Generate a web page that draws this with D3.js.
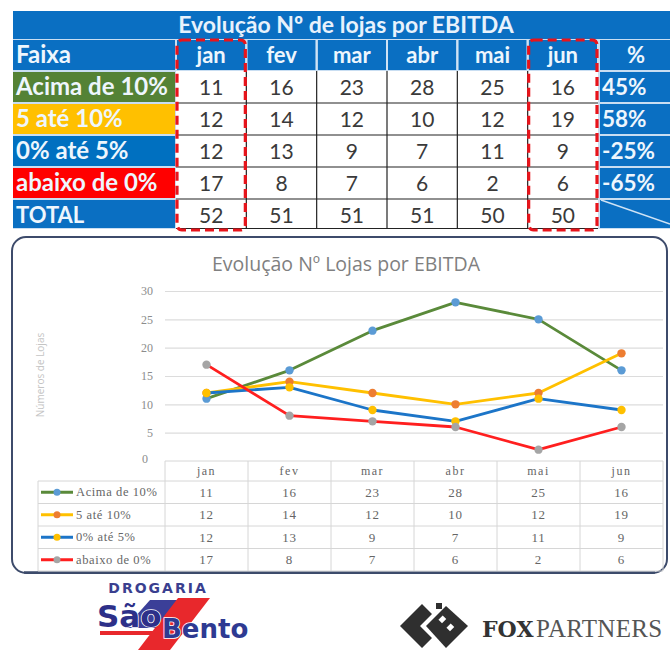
<!DOCTYPE html>
<html><head><meta charset="utf-8">
<script src="https://cdn.jsdelivr.net/npm/d3@7"></script>
<style>body{margin:0;background:#fff;overflow:hidden}</style>
</head><body>
<script>
// ---- data ----
const months = ["jan","fev","mar","abr","mai","jun"];
const seriesNames = ["Acima de 10%","5 até 10%","0% até 5%","abaixo de 0%"];
const acimaDe10 = [11,16,23,28,25,16];
const de5ate10 = [12,14,12,10,12,19];
const de0ate5 = [12,13,9,7,11,9];
const abaixoDe0 = [17,8,7,6,2,6];
const totals = [52,51,51,51,50,50];
const pctChange = ["45%","58%","-25%","-65%"];
const yTicks = [0,5,10,15,20,25,30];

const seriesValues = [acimaDe10, de5ate10, de0ate5, abaixoDe0];
const labelColors = ["#548235","#ffc000","#0070c0","#ff0000"];
const lineColors = ["#5a8a3a","#ffc000","#1c75c8","#ff1f1f"];
const markerColors = ["#5b9bd5","#ed7d31","#ffc000","#a5a5a5"];
const BLUE = "#0a6fc2";

const W = 670, H = 657;
const svg = d3.select("body").append("svg").attr("width", W).attr("height", H);

// ================= TOP TABLE =================
const tb = svg.append("g");
const tFont = "Lato, 'Open Sans', sans-serif";
tb.append("rect").attr("x",13).attr("y",11).attr("width",657).attr("height",218).attr("fill","#c9def2");
// title row
tb.append("rect").attr("x",13).attr("y",11).attr("width",657).attr("height",28).attr("fill",BLUE);
tb.append("text").attr("x",346).attr("y",33).attr("text-anchor","middle")
  .attr("font-family",tFont).attr("font-weight","bold").attr("font-size",23).attr("fill","#e8f2fc")
  .text("Evolução Nº  de lojas por EBITDA");

const colX = d3.scaleBand().domain(months).range([176, 598]);
// header row
const headerY = 40, headerH = 30;
const lblSize = 24;
tb.append("rect").attr("x",13).attr("y",headerY).attr("width",162).attr("height",headerH).attr("fill",BLUE);
tb.append("text").attr("x",16).attr("y",headerY+23).attr("font-family",tFont).attr("font-weight","bold")
  .attr("font-size",lblSize).attr("fill","#eef6fd").text("Faixa");
months.forEach(m=>{
  tb.append("rect").attr("x",colX(m)+1).attr("y",headerY).attr("width",colX.bandwidth()-2).attr("height",headerH).attr("fill",BLUE);
  tb.append("text").attr("x",colX(m)+colX.bandwidth()/2).attr("y",headerY+23).attr("text-anchor","middle")
    .attr("font-family",tFont).attr("font-weight","bold").attr("font-size",22).attr("fill","#eef6fd").text(m);
});
tb.append("rect").attr("x",600).attr("y",headerY).attr("width",70).attr("height",headerH).attr("fill",BLUE);
tb.append("text").attr("x",636).attr("y",headerY+23).attr("text-anchor","middle")
  .attr("font-family",tFont).attr("font-weight","bold").attr("font-size",22).attr("fill","#eef6fd").text("%");

// data area
const rowTop = i => 72 + i*32;
tb.append("rect").attr("x",176).attr("y",71).attr("width",422).attr("height",158).attr("fill","#fff");
const rowLabels = seriesNames.concat(["TOTAL"]);
const rowFills = labelColors.concat([BLUE]);
const rowVals = seriesValues.concat([totals]);
rowLabels.forEach((lab,i)=>{
  const y0 = rowTop(i), h = i<4 ? 30 : 28;
  tb.append("rect").attr("x",13).attr("y",y0).attr("width",162).attr("height",h).attr("fill",rowFills[i]);
  tb.append("text").attr("x",16).attr("y",y0+23).attr("font-family",tFont).attr("font-weight","bold")
    .attr("font-size",i<4?lblSize:22).attr("fill","#eef6fd").text(lab);
  rowVals[i].forEach((v,j)=>{
    tb.append("text").attr("x",colX(months[j])+colX.bandwidth()/2).attr("y",y0+23).attr("text-anchor","middle")
      .attr("font-family",tFont).attr("font-size",21).attr("fill","#3a3a3a").text(v);
  });
  tb.append("rect").attr("x",600).attr("y",y0).attr("width",70).attr("height",h).attr("fill",BLUE);
  if (i<4) {
    tb.append("text").attr("x",602).attr("y",y0+23).attr("font-family",tFont).attr("font-weight","bold")
      .attr("font-size",22.5).attr("fill","#eef6fd").text(pctChange[i]);
  } else {
    tb.append("line").attr("x1",601).attr("y1",y0).attr("x2",670).attr("y2",y0+24).attr("stroke","#cfe3f5").attr("stroke-width",1.5);
  }
  if (i>0) tb.append("line").attr("x1",176).attr("x2",598).attr("y1",y0-1).attr("y2",y0-1).attr("stroke","#222").attr("stroke-width",1.2);
});
tb.append("line").attr("x1",176).attr("x2",598).attr("y1",228.5).attr("y2",228.5).attr("stroke","#222").attr("stroke-width",1.2);
months.slice(1).forEach(m=>{
  tb.append("line").attr("x1",colX(m)).attr("x2",colX(m)).attr("y1",71).attr("y2",229).attr("stroke","#222").attr("stroke-width",1.2);
  tb.append("line").attr("x1",colX(m)).attr("x2",colX(m)).attr("y1",40).attr("y2",70).attr("stroke","#cfe3f5").attr("stroke-width",2);
});
// red dashed highlight boxes
["jan","jun"].forEach(m=>{
  tb.append("rect").attr("x",colX(m)+1).attr("y",40).attr("width",colX.bandwidth()-2).attr("height",190)
    .attr("rx",5).attr("fill","none").attr("stroke","#e8141b").attr("stroke-width",3.2).attr("stroke-dasharray","9,5");
});

// ================= CHART PANEL =================
const cp = svg.append("g");
cp.append("rect").attr("x",12).attr("y",237).attr("width",655).attr("height",336).attr("rx",14)
  .attr("fill","#fff").attr("stroke","#3d4b6b").attr("stroke-width",2);
cp.append("line").attr("x1",24).attr("x2",655).attr("y1",572.5).attr("y2",572.5).attr("stroke","#3d4b6b").attr("stroke-width",2.5);
cp.append("text").attr("x",346).attr("y",271).attr("text-anchor","middle")
  .attr("font-family","'Open Sans', sans-serif").attr("font-size",19.5).attr("fill","#808080")
  .text("Evolução Nº Lojas por EBITDA");

const x = d3.scaleBand().domain(months).range([165, 663]);
const y = d3.scaleLinear().domain([0,30]).range([461, 291]);
const cx = m => x(m) + x.bandwidth()/2;

// gridlines + y labels via axis
const yAxis = d3.axisLeft(y).tickValues(yTicks).tickSize(-(663-165)).tickFormat(d3.format("d"));
const ya = cp.append("g").attr("transform","translate(165,0)").call(yAxis);
ya.select(".domain").remove();
ya.selectAll(".tick line").attr("stroke","#dcdcdc").attr("stroke-width",1.2);
ya.selectAll(".tick text").attr("x",-12).attr("font-family","'Liberation Serif', serif").attr("font-size",12).attr("fill","#8c8c8c");
ya.selectAll(".tick").filter(d=>d===0).select("line").remove();
ya.selectAll(".tick").filter(d=>d===0).select("text").attr("x",-17).attr("dy","0.1em");

cp.append("text").attr("transform","translate(44,375) rotate(-90)").attr("text-anchor","middle")
  .attr("font-family","'Open Sans', sans-serif").attr("font-size",10).attr("fill","#c4c4c4").text("Números de Lojas");

// lines
const lineGen = d3.line().x((d,i)=>cx(months[i])).y(d=>y(d));
seriesValues.forEach((vals,k)=>{
  cp.append("path").datum(vals).attr("d",lineGen).attr("fill","none")
    .attr("stroke",lineColors[k]).attr("stroke-width",2.8).attr("stroke-linejoin","round");
  cp.selectAll(null).data(vals).enter().append("circle")
    .attr("cx",(d,i)=>cx(months[i])).attr("cy",d=>y(d)).attr("r",4.2).attr("fill",markerColors[k]);
});

// data table under chart
const tTop = 461, hdrH = 20, rH = 22.5;
const tBot = tTop + hdrH + 4*rH;
const gridC = "#d6d6d6";
const tbl = cp.append("g");
tbl.append("line").attr("x1",165).attr("x2",663).attr("y1",tTop).attr("y2",tTop).attr("stroke",gridC);
for (let r=0;r<=4;r++){
  const yy = tTop + hdrH + r*rH;
  tbl.append("line").attr("x1",38).attr("x2",663).attr("y1",yy).attr("y2",yy).attr("stroke",gridC);
}
tbl.append("line").attr("x1",38).attr("x2",38).attr("y1",tTop+hdrH).attr("y2",tBot).attr("stroke",gridC);
months.forEach(m=>{
  tbl.append("line").attr("x1",x(m)).attr("x2",x(m)).attr("y1",tTop).attr("y2",tBot).attr("stroke",gridC);
});
tbl.append("line").attr("x1",663).attr("x2",663).attr("y1",tTop).attr("y2",tBot).attr("stroke",gridC);
const sFont = "'Liberation Serif', serif";
months.forEach(m=>{
  tbl.append("text").attr("x",cx(m)).attr("y",tTop+hdrH/2+4).attr("text-anchor","middle")
    .attr("font-family",sFont).attr("font-size",12).attr("letter-spacing",1.5).attr("fill","#666").text(m);
});
seriesValues.forEach((vals,k)=>{
  const yc = tTop + hdrH + k*rH + rH/2;
  tbl.append("line").attr("x1",41).attr("x2",73).attr("y1",yc).attr("y2",yc).attr("stroke",lineColors[k]).attr("stroke-width",3);
  tbl.append("circle").attr("cx",57).attr("cy",yc).attr("r",3.5).attr("fill",markerColors[k]);
  tbl.append("text").attr("x",76).attr("y",yc+4).attr("font-family",sFont).attr("font-size",12.5).attr("letter-spacing",0.6).attr("fill","#666").text(seriesNames[k]);
  vals.forEach((v,i)=>{
    tbl.append("text").attr("x",cx(months[i])).attr("y",yc+4.5).attr("text-anchor","middle")
      .attr("font-family",sFont).attr("font-size",13).attr("letter-spacing",0.8).attr("fill","#666").text(v);
  });
});

// ================= LOGOS =================
const lg = svg.append("g");
// Drogaria São Bento
lg.append("polygon").attr("points","150,600 205,600 180,628 125,628").attr("fill","#3b3f98");
lg.append("polygon").attr("points","178,598 210,598 170,650 138,650").attr("fill","#e8282c");
lg.append("text").attr("x",158).attr("y",593).attr("text-anchor","middle").attr("font-family","'DejaVu Sans', sans-serif")
  .attr("font-weight","bold").attr("font-size",14).attr("letter-spacing",2).attr("fill","#3a3f8f").text("DROGARIA");
lg.append("text").attr("x",97).attr("y",627).attr("font-family","'DejaVu Sans', sans-serif").attr("font-weight","bold")
  .attr("font-size",31).attr("fill","#2d3089").attr("stroke","#fff").attr("stroke-width",1.5).attr("paint-order","stroke").text("São");
lg.append("rect").attr("x",100).attr("y",631).attr("width",64).attr("height",4).attr("fill","#e8282c");
lg.append("text").attr("x",162).attr("y",638).attr("font-family","'DejaVu Sans', sans-serif").attr("font-weight","bold")
  .attr("font-size",26).attr("fill","#2e3a92").attr("stroke","#fff").attr("stroke-width",1.5).attr("paint-order","stroke").text("Bento");

// Fox Partners
const fox = lg.append("g").attr("fill","#2f2f2f");
fox.append("polygon").attr("points","400,626 422,604 432,614 420,626 432,638 422,648");
fox.append("polygon").attr("points","426,626 446,606 468,626 446,648");
fox.append("rect").attr("x",440).attr("y",616).attr("width",5).attr("height",6).attr("fill","#fff").attr("transform","rotate(45 442 619)");
fox.append("rect").attr("x",448).attr("y",624).attr("width",5).attr("height",6).attr("fill","#fff").attr("transform","rotate(45 450 627)");
fox.append("rect").attr("x",436).attr("y",603).attr("width",6).attr("height",6);
lg.append("text").attr("x",482).attr("y",637).attr("font-family","'DejaVu Serif', serif").attr("font-weight","bold")
  .attr("font-size",22).attr("fill","#333").text("FOX");
lg.append("text").attr("x",536).attr("y",637).attr("font-family","'Liberation Serif', serif")
  .attr("font-size",25).attr("fill","#555").attr("letter-spacing",0.3).text("PARTNERS");
</script>
</body></html>
